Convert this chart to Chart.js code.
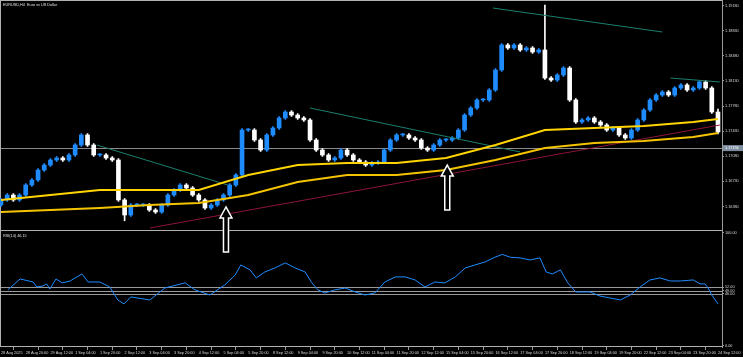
<!DOCTYPE html>
<html><head><meta charset="utf-8">
<script src="https://cdn.jsdelivr.net/npm/chart.js@4.4.1/dist/chart.umd.min.js"></script>
<style>html,body{margin:0;padding:0;background:#000;overflow:hidden}canvas{display:block}</style>
</head><body>
<canvas id="c" width="743" height="357"></canvas>
<script>
const chartTitle = 'EURUSD,H4  Euro vs US Dollar';
const rsiTitle = 'RSI(14) 46.15';
const xTickLabels = ['28 Aug 2025','28 Aug 20:00','29 Aug 12:00','1 Sep 04:00','1 Sep 20:00','2 Sep 12:00','3 Sep 04:00','3 Sep 20:00','4 Sep 12:00','5 Sep 04:00','5 Sep 20:00','8 Sep 12:00','9 Sep 04:00','9 Sep 20:00','10 Sep 12:00','11 Sep 04:00','11 Sep 20:00','12 Sep 12:00','15 Sep 04:00','15 Sep 20:00','16 Sep 12:00','17 Sep 04:00','17 Sep 20:00','18 Sep 12:00','19 Sep 04:00','19 Sep 20:00','22 Sep 12:00','23 Sep 04:00','23 Sep 20:00','24 Sep 12:00'];
const xTickBars = [0,4,8,12,16,20,24,28,32,36,40,44,48,52,56,60,64,68,72,76,80,84,88,92,96,100,104,108,112,116];
const priceTicks = [1.19180,1.19005,1.18830,1.18655,1.18480,1.18305,1.18130,1.17955,1.17780,1.17605,1.17430,1.17255,1.17080,1.16905,1.16730,1.16555,1.16380,1.16205];
const rsiTicks = [100,52,49,46,0];
const rsiLevels = [52,49,46];
const priceLine = 1.17194;

const opens = [1.16401,1.16471,1.16540,1.16471,1.16540,1.16679,1.16749,1.16888,1.16958,1.17028,1.17056,1.17028,1.17098,1.17237,1.17377,1.17237,1.17098,1.17098,1.17056,1.17028,1.16471,1.16261,1.16401,1.16401,1.16401,1.16331,1.16303,1.16401,1.16540,1.16610,1.16679,1.16638,1.16540,1.16471,1.16359,1.16401,1.16471,1.16540,1.16679,1.16819,1.17446,1.17446,1.17307,1.17167,1.17377,1.17474,1.17614,1.17697,1.17655,1.17614,1.17586,1.17307,1.17167,1.17098,1.17028,1.17056,1.17167,1.17098,1.17028,1.17000,1.16958,1.16986,1.17000,1.17167,1.17307,1.17377,1.17377,1.17335,1.17307,1.17195,1.17167,1.17237,1.17307,1.17307,1.17335,1.17446,1.17655,1.17753,1.17865,1.17865,1.18004,1.18283,1.18632,1.18590,1.18632,1.18562,1.18590,1.18534,1.18562,1.18171,1.18143,1.18213,1.18311,1.17865,1.17558,1.17586,1.17614,1.17558,1.17516,1.17446,1.17474,1.17377,1.17335,1.17446,1.17586,1.17725,1.17865,1.17934,1.17976,1.17934,1.18032,1.18074,1.18004,1.18032,1.18116,1.18032,1.17697];
const closes = [1.16471,1.16540,1.16471,1.16540,1.16679,1.16749,1.16888,1.16958,1.17028,1.17056,1.17028,1.17098,1.17237,1.17377,1.17237,1.17098,1.17098,1.17056,1.17028,1.16471,1.16261,1.16401,1.16401,1.16401,1.16331,1.16303,1.16401,1.16540,1.16610,1.16679,1.16638,1.16540,1.16471,1.16359,1.16401,1.16471,1.16540,1.16679,1.16819,1.17446,1.17446,1.17307,1.17167,1.17377,1.17474,1.17614,1.17697,1.17655,1.17614,1.17586,1.17307,1.17167,1.17098,1.17028,1.17056,1.17167,1.17098,1.17028,1.17000,1.16958,1.16986,1.17000,1.17167,1.17307,1.17377,1.17377,1.17335,1.17307,1.17195,1.17167,1.17237,1.17307,1.17307,1.17335,1.17446,1.17655,1.17753,1.17865,1.17865,1.18004,1.18283,1.18632,1.18590,1.18632,1.18562,1.18590,1.18534,1.18562,1.18171,1.18143,1.18213,1.18311,1.17865,1.17558,1.17586,1.17614,1.17558,1.17516,1.17446,1.17474,1.17377,1.17335,1.17446,1.17586,1.17725,1.17865,1.17934,1.17976,1.17934,1.18032,1.18074,1.18004,1.18032,1.18116,1.18032,1.17697,1.17418];
const highs = [1.16491,1.16560,1.16560,1.16560,1.16699,1.16769,1.16908,1.16978,1.17048,1.17076,1.17076,1.17118,1.17257,1.17397,1.17397,1.17257,1.17118,1.17118,1.17076,1.17048,1.16491,1.16421,1.16421,1.16421,1.16421,1.16351,1.16421,1.16560,1.16630,1.16699,1.16699,1.16658,1.16560,1.16491,1.16421,1.16491,1.16560,1.16699,1.16839,1.17466,1.17466,1.17466,1.17327,1.17397,1.17494,1.17634,1.17717,1.17717,1.17675,1.17634,1.17606,1.17327,1.17187,1.17118,1.17076,1.17187,1.17187,1.17118,1.17048,1.17020,1.17006,1.17020,1.17187,1.17327,1.17397,1.17397,1.17397,1.17355,1.17327,1.17215,1.17257,1.17327,1.17327,1.17355,1.17466,1.17675,1.17773,1.17885,1.17885,1.18024,1.18303,1.18652,1.18652,1.18652,1.18652,1.18610,1.18610,1.18582,1.19189,1.18191,1.18233,1.18331,1.18331,1.17885,1.17606,1.17634,1.17634,1.17578,1.17536,1.17494,1.17494,1.17397,1.17466,1.17606,1.17745,1.17885,1.17954,1.17996,1.17996,1.18052,1.18094,1.18094,1.18052,1.18136,1.18136,1.18052,1.17739];
const lows = [1.16381,1.16451,1.16451,1.16451,1.16520,1.16659,1.16729,1.16868,1.16938,1.17008,1.17008,1.17008,1.17078,1.17217,1.17217,1.17078,1.17078,1.17036,1.17008,1.16451,1.16181,1.16241,1.16381,1.16381,1.16311,1.16283,1.16283,1.16381,1.16520,1.16590,1.16618,1.16520,1.16451,1.16339,1.16339,1.16381,1.16451,1.16520,1.16659,1.16799,1.17426,1.17287,1.17147,1.17147,1.17357,1.17454,1.17594,1.17635,1.17594,1.17566,1.17287,1.17147,1.17078,1.17008,1.17008,1.17036,1.17078,1.17008,1.16980,1.16938,1.16938,1.16966,1.16980,1.17147,1.17287,1.17357,1.17315,1.17287,1.17175,1.17147,1.17147,1.17217,1.17287,1.17287,1.17315,1.17426,1.17635,1.17733,1.17845,1.17845,1.17984,1.18263,1.18570,1.18570,1.18542,1.18542,1.18514,1.18514,1.18151,1.18123,1.18123,1.18193,1.17845,1.17538,1.17538,1.17566,1.17538,1.17496,1.17426,1.17426,1.17357,1.17315,1.17315,1.17426,1.17566,1.17705,1.17845,1.17914,1.17914,1.17914,1.18012,1.17984,1.17984,1.18012,1.18012,1.17677,1.17390];

const maFastBars = [0,8,16,24,32,40,48,56,64,72,80,88,96,104,112,116];
const maFastVals = [1.16471,1.16540,1.16610,1.16610,1.16610,1.16819,1.16958,1.16986,1.16986,1.17056,1.17237,1.17446,1.17474,1.17502,1.17558,1.17600];
const maSlowBars = [0,8,16,24,32,40,48,56,64,72,80,88,96,104,112,116];
const maSlowVals = [1.16303,1.16331,1.16359,1.16401,1.16429,1.16540,1.16721,1.16819,1.16819,1.16888,1.17028,1.17195,1.17265,1.17293,1.17349,1.17405];

const rsiBars = [1.1,3.1,5.2,5.8,6.8,7.4,7.9,8.9,9.9,11.2,12,13.1,14.1,16,17.6,18.9,19.9,21,24.1,26.5,29.8,31.4,33.8,36.2,37.9,38.8,40.3,41.3,42.7,44.3,46,47.6,49.2,50.3,51.3,52.4,54,55.7,57.3,58.9,60.5,62.1,63.8,65.4,67,68.6,70.2,71.8,73.5,75.1,76.7,78.3,79.9,81.1,82.4,84,85.6,87.2,88.2,89.2,90.5,91.7,93,95.3,96.9,98.5,100.2,101.8,103.4,105,106.6,108.3,109.9,112,113.1,113.9,114.4,115,116];
const rsiVals = [49.6,59.3,56.6,52.2,53.1,54.9,50.4,59.3,55.8,57.5,60.2,63.7,56.6,56.6,52.2,40.7,37.2,43.4,40.7,51.3,55.8,49.6,45.1,54,62.8,71.7,67.3,60.2,65.5,69,73.5,69,65.5,55.8,49.6,46.9,49.6,51.3,47.8,45.1,46.9,56.6,61.1,61.1,58.4,52.2,56.6,55.8,61.1,69,71.7,74.3,78.5,81,78.5,77.9,76.1,77.9,65.5,63.7,67.3,55.8,47.8,47.8,44.2,42.5,40.7,45.1,52.2,58.4,60.2,57.5,57.5,58.4,54.9,54.9,51.3,45.1,37.2];

const redLineBars = [24.1,116.3];
const redLineVals = [1.16080,1.17516];
const tealLines = [
  {bars:[15.5,36.7], vals:[1.17237,1.16679]},
  {bars:[50,84], vals:[1.17753,1.17140]},
  {bars:[79.6,107], vals:[1.19147,1.18813]},
  {bars:[108.3,116.3], vals:[1.18171,1.18116]}
];
const arrowBars = [36.4,72.2];
const arrowPrices = [1.16373,1.16958];

const BULL = '#1e8cff', BEAR = '#ffffff';
const bodyData = opens.map((o,i)=>({x:i, y:[o, closes[i]]}));
const wickData = highs.map((h,i)=>({x:i, y:[lows[i], h]}));
const candleColors = opens.map((o,i)=> closes[i] >= o ? BULL : BEAR);

const datasets = [
  {type:'bar', data:wickData, yAxisID:'y', grouped:false, barThickness:1, backgroundColor:candleColors, order:6},
  {type:'bar', data:bodyData, yAxisID:'y', grouped:false, barThickness:4, minBarLength:1, backgroundColor:candleColors, order:5},
  {type:'line', data:maSlowBars.map((b,i)=>({x:b,y:maSlowVals[i]})), yAxisID:'y', borderColor:'#f5c400', borderWidth:2, pointRadius:0, order:2},
  {type:'line', data:maFastBars.map((b,i)=>({x:b,y:maFastVals[i]})), yAxisID:'y', borderColor:'#ffd400', borderWidth:2, pointRadius:0, order:2},
  {type:'line', data:redLineBars.map((b,i)=>({x:b,y:redLineVals[i]})), yAxisID:'y', borderColor:'#8c1538', borderWidth:1, pointRadius:0, order:3},
  ...tealLines.map(t=>({type:'line', data:t.bars.map((b,i)=>({x:b,y:t.vals[i]})), yAxisID:'y', borderColor:'#1b7f6e', borderWidth:1, pointRadius:0, order:3})),
  {type:'line', data:rsiBars.map((b,i)=>({x:b,y:rsiVals[i]})), yAxisID:'y2', borderColor:'#1e8cff', borderWidth:1, pointRadius:0, order:1}
];

const tickFont = {family:'Liberation Sans', size:3.8};
const noPad = s => { s.paddingTop=0; s.paddingBottom=0; s.paddingLeft=0; s.paddingRight=0; };

const overlay = {
  id:'overlay',
  beforeDatasetsDraw(chart){
    const {ctx, chartArea:a, scales} = chart;
    ctx.save();
    ctx.strokeStyle = '#9a9a9a'; ctx.lineWidth = 1;
    rsiLevels.forEach(v=>{ const y = Math.round(scales.y2.getPixelForValue(v))+0.5; ctx.beginPath(); ctx.moveTo(a.left,y); ctx.lineTo(a.right,y); ctx.stroke(); });
    const py = Math.round(scales.y.getPixelForValue(priceLine))+0.5;
    ctx.strokeStyle = '#8a8a8a';
    ctx.beginPath(); ctx.moveTo(a.left,py); ctx.lineTo(a.right,py); ctx.stroke();
    const sy = Math.round(scales.y2.top)+0.5;
    ctx.strokeStyle = '#b0b0b0';
    ctx.beginPath(); ctx.moveTo(a.left,sy); ctx.lineTo(a.right,sy); ctx.stroke();
    ctx.beginPath(); ctx.moveTo(a.left+0.5,a.top); ctx.lineTo(a.left+0.5,a.bottom); ctx.stroke();
    ctx.beginPath(); ctx.moveTo(a.left,a.top+0.5); ctx.lineTo(a.right,a.top+0.5); ctx.stroke();
    ctx.beginPath(); ctx.moveTo(a.left,a.bottom-0.5); ctx.lineTo(a.right,a.bottom-0.5); ctx.stroke();
    ctx.restore();
  },
  afterDraw(chart){
    const {ctx, chartArea:a, scales} = chart;
    ctx.save();
    ctx.strokeStyle = '#ffffff'; ctx.fillStyle = '#000'; ctx.lineWidth = 1.5;
    arrowBars.forEach((b,i)=>{
      const x = scales.x.getPixelForValue(b), y = scales.y.getPixelForValue(arrowPrices[i]);
      const hw=6, sw=2.5, hh=11, len=45;
      ctx.beginPath();
      ctx.moveTo(x,y); ctx.lineTo(x+hw,y+hh); ctx.lineTo(x+sw,y+hh); ctx.lineTo(x+sw,y+len);
      ctx.lineTo(x-sw,y+len); ctx.lineTo(x-sw,y+hh); ctx.lineTo(x-hw,y+hh); ctx.closePath();
      ctx.fill(); ctx.stroke();
    });
    ctx.fillStyle = '#e0e0e0'; ctx.font = '3.8px "Liberation Sans"'; ctx.textBaseline='middle'; ctx.textAlign='left';
    ctx.fillText(chartTitle, a.left+3, a.top+5);
    ctx.fillText(rsiTitle, a.left+3, scales.y2.top+6);
    const py = scales.y.getPixelForValue(priceLine);
    ctx.fillStyle = '#7d8ea0'; ctx.fillRect(a.right+1, py-3, 21, 6);
    ctx.fillStyle = '#ffffff'; ctx.fillText(priceLine.toFixed(5), a.right+3, py);
    ctx.restore();
  }
};

new Chart(document.getElementById('c'), {
  data:{datasets},
  options:{
    responsive:false, animation:false, devicePixelRatio:1,
    layout:{padding:0},
    plugins:{legend:{display:false}, tooltip:{enabled:false}},
    scales:{
      x:{type:'linear', position:'bottom', min:-0.16, max:116.65, offset:false,
        afterBuildTicks:s=>{ s.ticks = xTickBars.map(v=>({value:v})); },
        afterFit:s=>{ s.height = 10; noPad(s); },
        ticks:{align:'start', font:tickFont, color:'#d8d8d8', maxRotation:0, autoSkip:false, padding:1,
          callback:(v)=>{ const k = xTickBars.indexOf(v); return k>=0 ? xTickLabels[k] : ''; }},
        grid:{drawOnChartArea:false, drawTicks:true, tickLength:3, color:'#9a9a9a'},
        border:{display:false}},
      y:{type:'linear', position:'right', stack:'panes', stackWeight:230, min:1.16052, max:1.19259,
        afterBuildTicks:s=>{ s.ticks = priceTicks.map(v=>({value:v})); },
        afterFit:s=>{ s.width = 21; noPad(s); },
        ticks:{font:tickFont, color:'#d8d8d8', padding:1, callback:v=>v.toFixed(5)},
        grid:{drawOnChartArea:false, drawTicks:true, tickLength:2, color:'#9a9a9a'},
        border:{display:true, color:'#9a9a9a'}},
      y2:{type:'linear', position:'right', stack:'panes', stackWeight:117, min:-0.9, max:102.6,
        afterBuildTicks:s=>{ s.ticks = rsiTicks.map(v=>({value:v})); },
        afterFit:s=>{ s.width = 21; noPad(s); },
        ticks:{font:tickFont, color:'#d8d8d8', padding:1, callback:v=>v.toFixed(2)},
        grid:{drawOnChartArea:false, drawTicks:true, tickLength:2, color:'#9a9a9a'},
        border:{display:true, color:'#9a9a9a'}}
    }
  },
  plugins:[overlay]
});
</script>
</body></html>
